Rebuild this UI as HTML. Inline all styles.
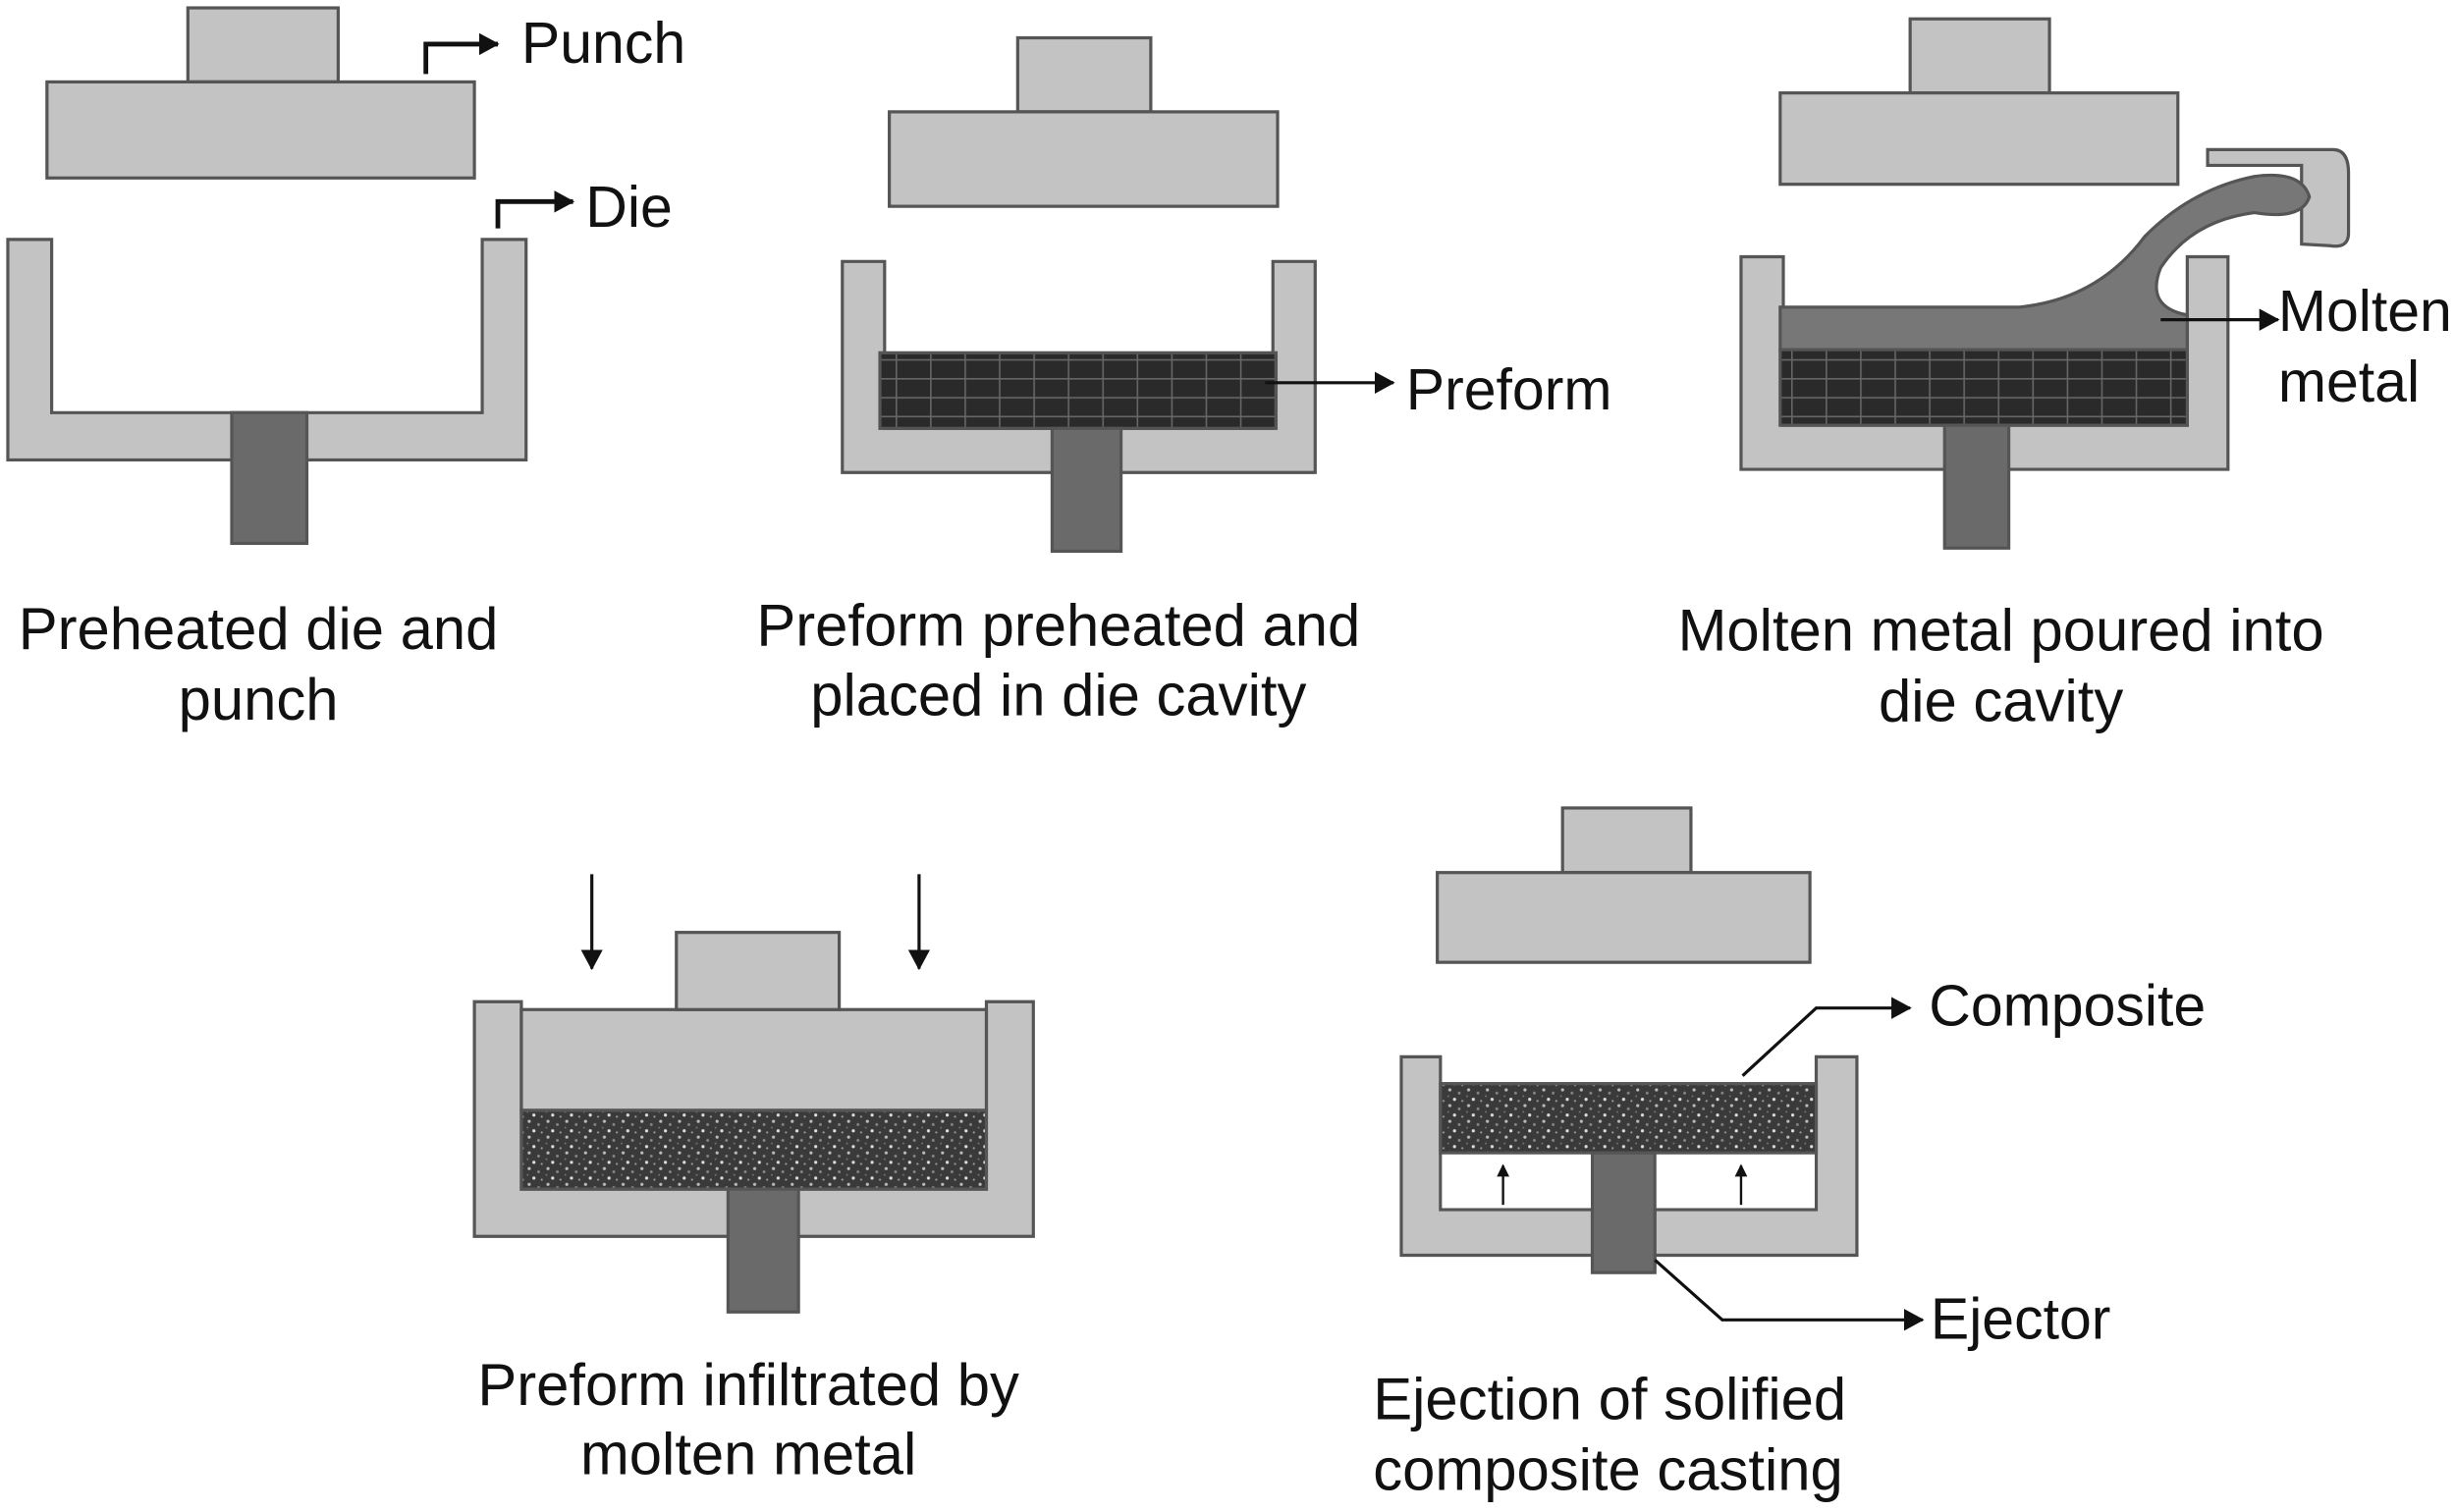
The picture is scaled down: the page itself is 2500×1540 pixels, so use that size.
<!DOCTYPE html>
<html><head><meta charset="utf-8"><style>
html,body{margin:0;padding:0;background:#fff;}
svg{display:block;}
text{font-family:"Liberation Sans",sans-serif;fill:#111;}
</style></head><body>
<svg width="2500" height="1540" viewBox="0 0 1568 960" preserveAspectRatio="none" xmlns="http://www.w3.org/2000/svg">
<defs>
<pattern id="grid" width="22" height="12" patternUnits="userSpaceOnUse">
<rect width="22" height="12" fill="#2a2a2a"/>
<path d="M0 0.5H22 M0.5 0V12" stroke="#666" stroke-width="1"/>
</pattern>
<pattern id="speck" width="12" height="10" patternUnits="userSpaceOnUse">
<rect width="12" height="10" fill="#3a3a3a"/>
<circle cx="2" cy="2" r="1" fill="#bbb"/><circle cx="8" cy="4" r="0.9" fill="#888"/>
<circle cx="5" cy="8" r="1" fill="#ddd"/><circle cx="10" cy="9" r="0.7" fill="#999"/>
<circle cx="1" cy="6" r="0.6" fill="#777"/>
</pattern>
<marker id="ah" markerWidth="8" markerHeight="8" refX="7" refY="4" orient="auto" markerUnits="userSpaceOnUse"><path d="M0 0L8 4L0 8Z" fill="#111"/></marker>
<marker id="ah2" markerWidth="14" markerHeight="14" refX="12" refY="7" orient="auto" markerUnits="userSpaceOnUse"><path d="M0 0L13 7L0 14Z" fill="#111"/></marker>
</defs>
<g stroke="#555" stroke-width="2" fill="#c3c3c3">
<rect x="120" y="5" width="96" height="47"/>
<rect x="30" y="52" width="273" height="61"/>
<path d="M5 152H33V262H308V152H336V292H5Z"/>
<rect x="148" y="262" width="48" height="83" fill="#6a6a6a"/>
<rect x="650" y="24" width="85" height="47"/>
<rect x="568" y="71" width="248" height="60"/>
<path d="M538 166H565V272H813V166H840V300H538Z"/>
<rect x="562" y="224" width="253" height="48" fill="url(#grid)"/>
<rect x="672" y="272" width="44" height="78" fill="#6a6a6a"/>
<rect x="1220" y="12" width="89" height="47"/>
<rect x="1137" y="59" width="254" height="58"/>
<path d="M1112 163H1139V270H1397V163H1423V298H1112Z"/>
<path d="M1410 95H1490Q1500 95 1500 110V148Q1500 158 1488 156L1470 155V105H1410Z"/>
<path d="M1137 195H1290Q1340 190 1370 150Q1400 120 1440 112Q1470 108 1475 125Q1470 140 1440 135Q1400 140 1380 170Q1370 195 1397 200V222H1137Z" fill="#777"/>
<rect x="1137" y="222" width="260" height="48" fill="url(#grid)"/>
<rect x="1242" y="270" width="41" height="78" fill="#6a6a6a"/>
<path d="M303 636H333V755H630V636H660V785H303Z"/>
<rect x="333" y="641" width="297" height="64"/>
<rect x="432" y="592" width="104" height="49"/>
<rect x="333" y="705" width="297" height="50" fill="url(#speck)"/>
<rect x="465" y="755" width="45" height="78" fill="#6a6a6a"/>
<rect x="998" y="513" width="82" height="41"/>
<rect x="918" y="554" width="238" height="57"/>
<path d="M895 671H920V768H1160V671H1186V797H895Z"/>
<rect x="920" y="688" width="240" height="44" fill="url(#speck)"/>
<rect x="1017" y="732" width="40" height="76" fill="#6a6a6a"/>
</g>
<rect x="921" y="733" width="95" height="34" fill="#fff"/>
<rect x="1058" y="733" width="101" height="34" fill="#fff"/>
<g stroke="#111" stroke-width="3" fill="none">
<path d="M272 47V28H318" marker-end="url(#ah2)"/>
<path d="M318 145V128H366" marker-end="url(#ah2)"/>
<path d="M808 243H890" stroke-width="2" marker-end="url(#ah2)"/>
<path d="M1380 203H1455" stroke-width="2" marker-end="url(#ah2)"/>
<path d="M378 555V615" stroke-width="2" marker-end="url(#ah2)"/>
<path d="M587 555V615" stroke-width="2" marker-end="url(#ah2)"/>
<path d="M960 765V740" stroke-width="1.5" marker-end="url(#ah)"/>
<path d="M1112 765V740" stroke-width="1.5" marker-end="url(#ah)"/>
<path d="M1113 683L1160 640H1220" stroke-width="2" marker-end="url(#ah2)"/>
<path d="M1057 800L1100 838H1228" stroke-width="2" marker-end="url(#ah2)"/>
</g>
<g font-size="37">
<text x="333" y="40">Punch</text>
<text x="374" y="144">Die</text>
<text x="898" y="260">Preform</text>
<text x="1455" y="210">Molten</text>
<text x="1455" y="255">metal</text>
<text x="1232" y="651">Composite</text>
<text x="1233" y="850">Ejector</text>
</g>
<g font-size="37.5" text-anchor="middle">
<text x="165" y="412">Preheated die and</text>
<text x="165" y="457">punch</text>
<text x="676" y="410">Preform preheated and</text>
<text x="676" y="454">placed in die cavity</text>
<text x="1278" y="413">Molten metal poured into</text>
<text x="1278" y="458">die cavity</text>
<text x="478" y="892">Preform infiltrated by</text>
<text x="478" y="936">molten metal</text>
</g>
<g font-size="37.5">
<text x="877" y="901">Ejection of solified</text>
<text x="877" y="946">composite casting</text>
</g>
</svg>
</body></html>
